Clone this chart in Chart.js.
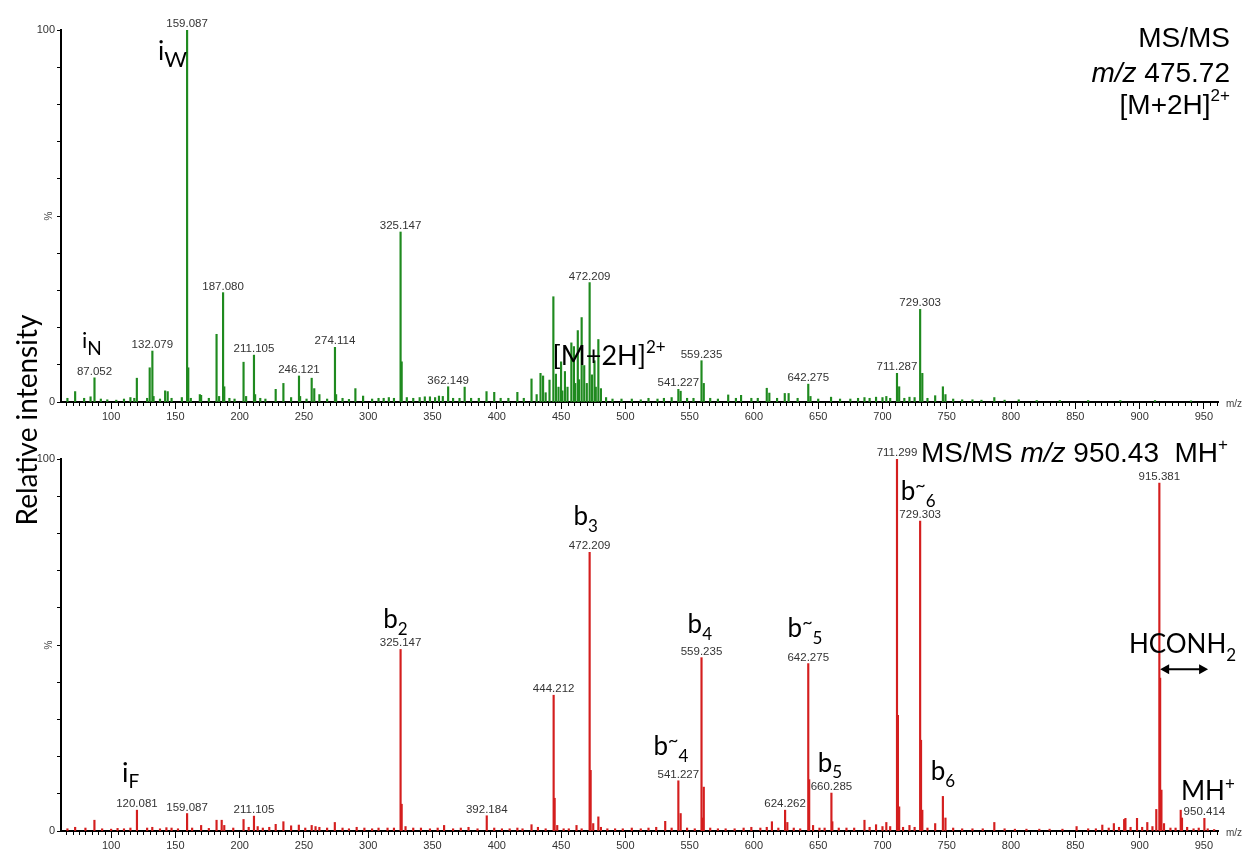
<!DOCTYPE html>
<html>
<head>
<meta charset="utf-8">
<title>MS/MS spectra</title>
<script src="https://cdn.jsdelivr.net/npm/chart.js@4.4.1/dist/chart.umd.min.js"></script>
<style>
  html, body { margin: 0; padding: 0; background: #fff; }
  #wrap { position: relative; width: 1253px; height: 853px; }
  #wrap canvas { position: absolute; left: 0; top: 0; }
</style>
</head>
<body>
<div id="wrap">
  <canvas id="topChart" width="1253" height="853"></canvas>
  <canvas id="bottomChart" width="1253" height="853"></canvas>
</div>
<script>
// x axis range and tick labels (m/z)
const mzMin = 61, mzMax = 961;
const mzTicks = [100, 150, 200, 250, 300, 350, 400, 450, 500, 550, 600, 650, 700, 750, 800, 850, 900, 950];

// top spectrum: MS/MS of m/z 475.72 [M+2H]2+
const topMz = [
  66, 72, 79, 84, 87.052, 92, 97, 104, 110, 115,
  118, 120, 128, 130, 132.079, 133, 138, 142, 144, 147,
  155, 159.087, 160, 162, 169, 170, 176, 182, 184, 187.080,
  188, 192, 196, 203, 205, 211.105, 212, 216, 220, 228,
  234, 240, 246.121, 247, 252, 256, 258, 262, 268, 274.114,
  275, 280, 285, 290, 296, 303, 308, 312, 316, 320,
  325.147, 326, 330, 335, 340, 344, 348, 352, 355, 358,
  362.149, 366, 371, 375, 380, 386, 392, 398, 403, 409,
  416, 421, 427, 431, 434, 436, 438, 441, 444, 446,
  448, 450, 451, 453, 455, 458, 460, 461, 463, 464,
  466, 468, 470, 472.209, 474, 476, 477, 479, 481, 485,
  490, 497, 505, 512, 518, 525, 530, 536, 541.227, 543,
  548, 553, 559.235, 561, 566, 572, 580, 586, 590, 598,
  603, 610, 612, 618, 624, 627, 634, 642.275, 644, 650,
  660, 667, 675, 681, 686, 690, 695, 700, 703, 706,
  711.287, 713, 717, 721, 725, 729.303, 731, 735, 741, 747,
  749, 755, 762, 770, 777, 787, 795, 806, 820, 838,
  860, 885, 912, 940
];
const topIntensity = [
  1.0, 2.8, 1.0, 1.4, 6.5, 0.8, 0.6, 0.5, 0.8, 1.2,
  1.0, 6.4, 1.0, 9.2, 13.7, 1.5, 0.8, 3.0, 2.8, 1.0,
  1.2, 100, 9.2, 1.0, 2.0, 1.8, 1.0, 18.2, 1.5, 29.4,
  4.1, 1.0, 0.8, 10.7, 1.5, 12.6, 2.0, 1.0, 0.8, 3.4,
  5.0, 1.2, 7.0, 1.5, 0.8, 6.4, 3.6, 2.0, 0.8, 14.7,
  2.0, 1.0, 0.7, 3.6, 1.6, 0.8, 1.0, 1.0, 1.2, 1.0,
  45.7, 10.8, 1.2, 1.0, 1.2, 1.4, 1.4, 1.2, 1.6, 1.5,
  4.1, 1.0, 1.0, 4.0, 1.0, 1.0, 2.8, 2.6, 1.0, 1.0,
  2.6, 1.0, 6.2, 2.0, 7.7, 7.0, 2.5, 5.9, 28.3, 7.5,
  4.0, 10.8, 3.0, 8.2, 4.0, 15.9, 14.9, 5.0, 19.2, 6.0,
  22.7, 9.8, 5.0, 32.1, 7.3, 11.1, 4.0, 16.8, 3.6, 1.2,
  0.8, 0.8, 0.8, 0.6, 1.0, 0.8, 1.0, 1.2, 3.4, 2.9,
  1.0, 1.0, 11.1, 5.0, 1.0, 0.8, 1.9, 1.0, 1.8, 1.0,
  1.0, 3.7, 2.4, 1.0, 2.3, 2.3, 1.0, 4.8, 1.5, 0.8,
  1.3, 0.8, 0.8, 1.0, 1.2, 1.0, 1.3, 1.2, 1.5, 1.0,
  7.7, 4.1, 1.0, 1.3, 1.2, 24.9, 7.7, 1.0, 1.7, 4.1,
  2.0, 0.8, 0.6, 0.6, 0.5, 1.2, 0.5, 0.6, 0.4, 0.4,
  0.4, 0.4, 0.4, 0.3
];
const topLabelled = [87.052, 132.079, 159.087, 187.080, 211.105, 246.121, 274.114,
  325.147, 362.149, 472.209, 541.227, 559.235, 642.275, 711.287, 729.303];

// bottom spectrum: MS/MS of m/z 950.43 MH+
const bottomMz = [
  66, 72, 80, 87, 93, 100, 105, 110, 115, 120.081,
  128, 132, 138, 143, 147, 152, 159.087, 163, 170, 176,
  182, 186, 188, 195, 203, 207, 211.105, 214, 218, 223,
  228, 234, 240, 246, 251, 256, 259, 262, 268, 274,
  280, 285, 291, 297, 303, 308, 315, 320, 325.147, 326,
  329, 335, 341, 348, 354, 359, 366, 372, 378, 385,
  392.184, 398, 404, 410, 416, 420, 427, 432, 438, 444.212,
  445, 447, 452, 456, 462, 466, 472.209, 473, 475, 479,
  481, 486, 492, 498, 505, 512, 518, 524, 531, 536,
  541.227, 543, 548, 554, 559.235, 560, 561, 566, 572, 578,
  585, 592, 598, 605, 610, 614, 619, 624.262, 626, 631,
  636, 642.275, 643, 646, 651, 655, 660.285, 661, 666, 672,
  678, 686, 690, 695, 700, 703, 706, 711.299, 712, 713,
  716, 721, 725, 729.303, 730, 731, 735, 741, 747, 749,
  755, 762, 770, 778, 787, 795, 803, 812, 822, 830,
  840, 851, 860, 866, 871, 876, 880, 884, 888, 889,
  893, 898, 902, 906, 910, 913, 915.381, 916, 917, 919,
  924, 928, 932, 933, 937, 942, 946, 950.414, 953, 958
];
const bottomIntensity = [
  0.6, 1.0, 0.8, 2.9, 0.6, 0.5, 0.7, 0.6, 0.8, 5.6,
  0.8, 1.0, 0.6, 0.9, 0.8, 0.6, 4.7, 0.8, 1.5, 0.7,
  2.9, 2.9, 1.5, 0.8, 3.1, 1.0, 4.0, 1.2, 0.8, 1.0,
  1.8, 2.5, 1.4, 1.6, 0.8, 1.5, 1.2, 1.0, 0.8, 2.3,
  0.8, 0.6, 1.0, 0.8, 0.6, 0.8, 0.8, 0.8, 48.8, 7.2,
  1.2, 0.8, 0.8, 0.6, 0.8, 1.5, 0.6, 0.8, 1.0, 0.6,
  4.1, 0.8, 0.6, 0.6, 0.8, 0.6, 1.7, 1.0, 0.6, 36.5,
  8.8, 1.5, 0.6, 0.6, 1.5, 0.6, 74.9, 16.3, 2.0, 3.8,
  1.0, 0.6, 0.6, 0.6, 0.8, 0.6, 0.8, 1.0, 2.6, 0.8,
  13.5, 4.7, 0.8, 0.6, 46.6, 3.5, 11.8, 0.8, 0.6, 0.6,
  0.6, 0.8, 1.0, 0.8, 1.0, 2.5, 0.8, 5.6, 2.3, 0.8,
  0.6, 45.0, 13.8, 1.5, 0.8, 0.8, 10.2, 2.5, 0.8, 0.8,
  0.8, 2.9, 1.0, 1.7, 1.2, 2.3, 1.2, 100, 31.1, 6.5,
  1.0, 1.5, 1.0, 83.3, 24.4, 5.6, 0.8, 2.0, 9.3, 3.5,
  0.8, 0.6, 0.6, 0.6, 2.3, 0.6, 0.5, 0.5, 0.5, 0.5,
  0.5, 1.2, 0.6, 0.6, 1.6, 0.8, 2.0, 1.0, 3.1, 3.4,
  1.0, 3.4, 1.0, 2.3, 1.2, 5.8, 93.5, 41.1, 11.0, 2.0,
  0.8, 0.8, 5.6, 3.5, 1.0, 0.6, 0.8, 3.4, 0.6, 0.4
];
const bottomLabelled = [120.081, 159.087, 211.105, 325.147, 392.184, 444.212, 472.209,
  541.227, 559.235, 624.262, 642.275, 660.285, 711.299, 729.303, 915.381, 950.414];

// ion annotations: anchored at (m/z, intensity), parts = [text, font px, baseline shift]
const topNotes = [
  { x: 136.5, y: 91.9, parts: [['i', 26, 0], ['W', 22, 7]] },
  { x: 77.3, y: 14.5, parts: [['i', 22, 0], ['N', 19, 7]] },
  { x: 443.3, y: 9.9, parts: [['[M+2H]', 27, 0], ['2+', 17, -12]] }
];
const bottomNotes = [
  { x: 108.5, y: 13.2, parts: [['i', 27, 0], ['F', 19, 6]] },
  { x: 311.7, y: 54.6, parts: [['b', 26, 0], ['2', 17, 7]] },
  { x: 459.6, y: 82.3, parts: [['b', 26, 0], ['3', 17, 7]] },
  { x: 521.9, y: 20.4, parts: [['b', 26, 0], ['~', 18, -9], ['4', 17, 7]] },
  { x: 548.4, y: 53.2, parts: [['b', 26, 0], ['4', 17, 7]] },
  { x: 626.2, y: 52.2, parts: [['b', 26, 0], ['~', 18, -9], ['5', 17, 7]] },
  { x: 649.6, y: 15.9, parts: [['b', 26, 0], ['5', 17, 6]] },
  { x: 714.2, y: 89.0, parts: [['b', 26, 0], ['~', 18, -9], ['6', 17, 7]] },
  { x: 737.6, y: 13.7, parts: [['b', 26, 0], ['6', 17, 7]] },
  { x: 891.7, y: 47.8, parts: [['HCONH', 26, 0], ['2', 17, 8]] },
  { x: 932.2, y: 8.3, parts: [['MH', 26, 0], ['+', 17, -10]] }
];

const noteFont = 'Lato, "Open Sans", sans-serif';
const titleFont = '"Liberation Sans", Arial, sans-serif';

function partsWidth(ctx, parts, family) {
  let w = 0;
  parts.forEach(([t, size, dy, italic]) => {
    ctx.font = (italic ? 'italic ' : '') + size + 'px ' + family;
    w += ctx.measureText(t).width;
  });
  return w;
}

function drawParts(ctx, parts, x, y, family) {
  let cx = x;
  parts.forEach(([t, size, dy, italic]) => {
    ctx.font = (italic ? 'italic ' : '') + size + 'px ' + family;
    ctx.fillText(t, cx, y + dy);
    cx += ctx.measureText(t).width;
  });
}

const decor = {
  id: 'msDecor',
  afterDraw(chart, args, opts) {
    const { ctx, chartArea: area } = chart;
    const xs = chart.scales.x, ys = chart.scales.y;
    ctx.save();

    // minor ticks every 5 m/z
    ctx.strokeStyle = '#000';
    ctx.lineWidth = 1;
    ctx.beginPath();
    for (let v = Math.ceil(xs.min / 5) * 5; v <= xs.max; v += 5) {
      if (v % 50 === 0) continue;
      const px = Math.round(xs.getPixelForValue(v)) + 0.5;
      ctx.moveTo(px, area.bottom);
      ctx.lineTo(px, area.bottom + 4);
    }
    ctx.stroke();

    // peak m/z labels
    const meta = chart.getDatasetMeta(0);
    const pts = chart.data.datasets[0].data;
    ctx.font = '11.5px "Liberation Sans", Arial, sans-serif';
    ctx.fillStyle = '#333';
    ctx.textAlign = 'center';
    ctx.textBaseline = 'alphabetic';
    pts.forEach((p, i) => {
      if (!opts.labelled.includes(p.x)) return;
      const el = meta.data[i];
      ctx.fillText(p.x.toFixed(3), el.x, el.y - 3);
    });

    // "%" on the y axis and m/z at the end of x axis
    ctx.fillStyle = '#444';
    ctx.font = '10px "Liberation Sans", Arial, sans-serif';
    ctx.save();
    ctx.translate(area.left - 12, ys.getPixelForValue(50));
    ctx.rotate(-Math.PI / 2);
    ctx.textBaseline = 'middle';
    ctx.fillText('%', 0, 0);
    ctx.restore();
    ctx.textAlign = 'left';
    ctx.textBaseline = 'middle';
    ctx.fillText('m/z', area.right + 8, area.bottom + 2);

    // ion annotations
    ctx.fillStyle = '#000';
    ctx.textBaseline = 'alphabetic';
    ctx.textAlign = 'left';
    opts.notes.forEach(n => {
      drawParts(ctx, n.parts, xs.getPixelForValue(n.x), ys.getPixelForValue(n.y), noteFont);
    });

    // double arrow (neutral loss)
    if (opts.arrow) {
      const a = opts.arrow;
      const x1 = xs.getPixelForValue(a.from), x2 = xs.getPixelForValue(a.to);
      const yy = ys.getPixelForValue(a.y);
      ctx.strokeStyle = '#000';
      ctx.lineWidth = 2;
      ctx.beginPath();
      ctx.moveTo(x1 + 4, yy); ctx.lineTo(x2 - 4, yy);
      ctx.stroke();
      ctx.beginPath();
      ctx.moveTo(x1, yy); ctx.lineTo(x1 + 9, yy - 5); ctx.lineTo(x1 + 9, yy + 5); ctx.closePath();
      ctx.moveTo(x2, yy); ctx.lineTo(x2 - 9, yy - 5); ctx.lineTo(x2 - 9, yy + 5); ctx.closePath();
      ctx.fill();
    }

    // precursor titles, right aligned
    opts.title.lines.forEach(line => {
      const w = partsWidth(ctx, line.parts, titleFont);
      drawParts(ctx, line.parts, area.right + opts.title.right - w, area.top + line.dy, titleFont);
    });

    // shared y title
    if (opts.yTitle) {
      ctx.save();
      ctx.translate(37, 420);
      ctx.rotate(-Math.PI / 2);
      ctx.textAlign = 'center';
      ctx.font = '28px ' + noteFont;
      ctx.fillText(opts.yTitle, 0, 0);
      ctx.restore();
    }
    ctx.restore();
  }
};

function makeSpectrum(canvasId, mz, intensity, color, pad, axisHeight, decorOpts) {
  return new Chart(document.getElementById(canvasId), {
    type: 'bar',
    data: {
      datasets: [{
        data: mz.map((m, i) => ({ x: m, y: intensity[i] })),
        backgroundColor: color,
        borderWidth: 0,
        barThickness: 1.5
      }]
    },
    options: {
      responsive: false,
      animation: false,
      layout: { padding: pad },
      plugins: {
        legend: { display: false },
        tooltip: { enabled: false },
        msDecor: decorOpts
      },
      scales: {
        x: {
          type: 'linear',
          min: mzMin,
          max: mzMax,
          offset: false,
          afterFit: s => { s.height = axisHeight; },
          afterBuildTicks: s => { s.ticks = mzTicks.map(v => ({ value: v })); },
          ticks: {
            autoSkip: false,
            maxRotation: 0,
            padding: 1,
            color: '#333',
            font: { family: 'Liberation Sans', size: 11 }
          },
          grid: { display: true, drawOnChartArea: false, offset: false, tickLength: 7, color: '#000' },
          border: { display: true, color: '#000', width: 2 }
        },
        y: {
          min: 0,
          max: 100,
          afterFit: s => { s.width = 61; },
          ticks: {
            stepSize: 10,
            padding: 2,
            color: '#333',
            font: { family: 'Liberation Sans', size: 11 },
            callback: v => (v === 0 ? '0' : v === 100 ? '100' : '')
          },
          grid: { display: true, drawOnChartArea: false, tickLength: 4, color: '#000' },
          border: { display: true, color: '#000', width: 2 }
        }
      }
    },
    plugins: [decor]
  });
}

makeSpectrum('topChart', topMz, topIntensity, '#1f8a1f',
  { left: 0, right: 35, top: 30, bottom: 423 }, 28, {
    labelled: topLabelled,
    notes: topNotes,
    yTitle: 'Relative intensity',
    title: {
      right: 12,
      lines: [
        { dy: 17, parts: [['MS/MS', 28, 0]] },
        { dy: 52, parts: [['m/z', 28, 0, true], [' 475.72', 28, 0]] },
        { dy: 84, parts: [['[M+2H]', 28, 0], ['2+', 17, -13]] }
      ]
    }
  });

makeSpectrum('bottomChart', bottomMz, bottomIntensity, '#d41e1e',
  { left: 0, right: 35, top: 459, bottom: 0 }, 22, {
    labelled: bottomLabelled,
    notes: bottomNotes,
    arrow: { from: 916, to: 953.3, y: 43.5 },
    title: {
      right: 10,
      lines: [
        { dy: 3, parts: [['MS/MS ', 28, 0], ['m/z', 28, 0, true], [' 950.43  MH', 28, 0], ['+', 17, -12]] }
      ]
    }
  });
</script>
</body>
</html>
